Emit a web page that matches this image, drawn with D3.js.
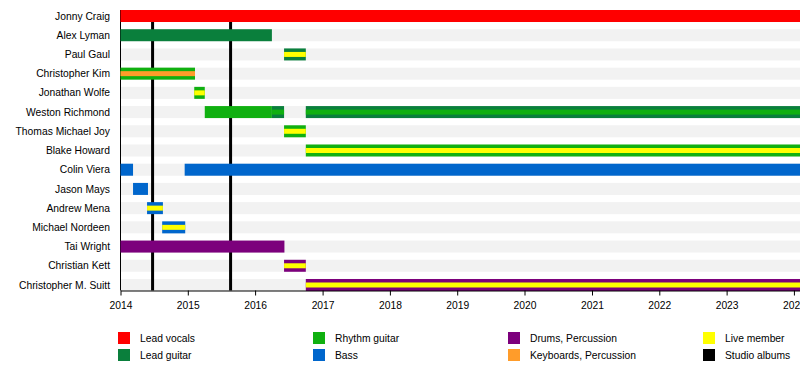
<!DOCTYPE html>
<html>
<head>
<meta charset="utf-8">
<script src="https://cdn.jsdelivr.net/npm/d3@7"></script>
<style>
  body { margin: 0; background: #fff; }
  text { font-family: "Liberation Sans", Arial, sans-serif; font-size: 10.3px; fill: #000; }
</style>
</head>
<body>
<svg id="chart" width="800" height="390"></svg>
<script>
// band members, top to bottom
const members = [
  'Jonny Craig', 'Alex Lyman', 'Paul Gaul', 'Christopher Kim', 'Jonathan Wolfe',
  'Weston Richmond', 'Thomas Michael Joy', 'Blake Howard', 'Colin Viera', 'Jason Mays',
  'Andrew Mena', 'Michael Nordeen', 'Tai Wright', 'Christian Kett', 'Christopher M. Suitt'
]

const roles = ['Lead vocals', 'Lead guitar', 'Rhythm guitar', 'Bass', 'Drums, Percussion',
  'Keyboards, Percussion', 'Live member', 'Studio albums']
const roleColors = ['#ff0000', '#0a7f3c', '#10b010', '#0066cc', '#7c007c',
  '#ff9c2a', '#ffff00', '#000000']

const END = '2024-02-03'

// [member, role, from, to]
const spans = [
  ['Jonny Craig', 'Lead vocals', '2014-01-01', END],
  ['Alex Lyman', 'Lead guitar', '2014-01-01', '2016-04-01'],
  ['Paul Gaul', 'Lead guitar', '2016-06-06', '2016-10-02'],
  ['Christopher Kim', 'Rhythm guitar', '2014-01-01', '2015-02-09'],
  ['Jonathan Wolfe', 'Rhythm guitar', '2015-02-05', '2015-04-03'],
  ['Weston Richmond', 'Rhythm guitar', '2015-04-03', '2016-04-01'],
  ['Weston Richmond', 'Lead guitar', '2016-04-01', '2016-06-06'],
  ['Weston Richmond', 'Lead guitar', '2016-10-02', END],
  ['Thomas Michael Joy', 'Rhythm guitar', '2016-06-06', '2016-10-02'],
  ['Blake Howard', 'Rhythm guitar', '2016-10-02', END],
  ['Colin Viera', 'Bass', '2014-01-01', '2014-03-10'],
  ['Colin Viera', 'Bass', '2014-12-15', END],
  ['Jason Mays', 'Bass', '2014-03-10', '2014-05-30'],
  ['Andrew Mena', 'Bass', '2014-05-25', '2014-08-19'],
  ['Michael Nordeen', 'Bass', '2014-08-15', '2014-12-18'],
  ['Tai Wright', 'Drums, Percussion', '2014-01-01', '2016-06-08'],
  ['Christian Kett', 'Drums, Percussion', '2016-06-06', '2016-10-02'],
  ['Christopher M. Suitt', 'Drums, Percussion', '2016-10-02', END]
]

// thinner bars drawn through the middle of the main ones
const stripes = [
  ['Paul Gaul', 'Live member', '2016-06-06', '2016-10-02'],
  ['Christopher Kim', 'Keyboards, Percussion', '2014-01-01', '2015-02-09'],
  ['Jonathan Wolfe', 'Live member', '2015-02-05', '2015-04-03'],
  ['Weston Richmond', 'Rhythm guitar', '2016-04-01', '2016-06-06'],
  ['Weston Richmond', 'Rhythm guitar', '2016-10-02', END],
  ['Thomas Michael Joy', 'Live member', '2016-06-06', '2016-10-02'],
  ['Blake Howard', 'Live member', '2016-10-02', END],
  ['Andrew Mena', 'Live member', '2014-05-25', '2014-08-19'],
  ['Michael Nordeen', 'Live member', '2014-08-15', '2014-12-18'],
  ['Christian Kett', 'Live member', '2016-06-06', '2016-10-02'],
  ['Christopher M. Suitt', 'Live member', '2016-10-02', END]
]

const albums = ['2014-06-24', '2015-08-21']

const svg = d3.select('#chart')
const parse = d3.utcParse('%Y-%m-%d')
const color = d3.scaleOrdinal().domain(roles).range(roleColors)

const left = 120.5, right = 800, axisY = 290.5
const x = d3.scaleUtc()
  .domain([parse('2014-01-01'), parse(END)])
  .range([left, right])
const y = d3.scaleBand()
  .domain(members)
  .range([6.4, 294.6])
const barH = 12, stripeH = 5
const cy = (m) => y(m) + y.bandwidth() / 2

// grey row backgrounds
svg.append('g').selectAll('rect')
  .data(members)
  .join('rect')
  .attr('x', left - 0.5)
  .attr('y', (d) => cy(d) - barH / 2)
  .attr('width', right - left + 0.5)
  .attr('height', barH)
  .attr('fill', '#f2f2f2')

// album lines + left edge
svg.append('g').selectAll('line')
  .data(albums)
  .join('line')
  .attr('x1', (d) => x(parse(d)))
  .attr('x2', (d) => x(parse(d)))
  .attr('y1', cy(members[0]) - barH / 2)
  .attr('y2', axisY)
  .attr('stroke', '#000')
  .attr('stroke-width', 3)
svg.append('line')
  .attr('x1', left).attr('x2', left)
  .attr('y1', cy(members[0]) - barH / 2).attr('y2', axisY)
  .attr('stroke', '#000')

// main bars
svg.append('g').selectAll('rect')
  .data(spans)
  .join('rect')
  .attr('x', (d) => x(parse(d[2])))
  .attr('y', (d) => cy(d[0]) - barH / 2)
  .attr('width', (d) => x(parse(d[3])) - x(parse(d[2])))
  .attr('height', barH)
  .attr('fill', (d) => color(d[1]))

svg.append('g').selectAll('rect')
  .data(stripes)
  .join('rect')
  .attr('x', (d) => x(parse(d[2])))
  .attr('y', (d) => cy(d[0]) - stripeH / 2)
  .attr('width', (d) => x(parse(d[3])) - x(parse(d[2])))
  .attr('height', stripeH)
  .attr('fill', (d) => color(d[1]))

// member names
svg.append('g').selectAll('text')
  .data(members)
  .join('text')
  .attr('x', 110)
  .attr('y', (d) => cy(d))
  .attr('dy', '0.35em')
  .attr('text-anchor', 'end')
  .text((d) => d)

// year axis
const axis = svg.append('g')
  .attr('transform', `translate(0,${axisY})`)
  .call(d3.axisBottom(x)
    .ticks(d3.utcYear.every(1))
    .tickFormat(d3.utcFormat('%Y'))
    .tickSize(5)
    .tickSizeOuter(0))
axis.selectAll('text').attr('font-size', null).attr('font-family', null).attr('y', 9).attr('dy', '0.95em')
axis.select('.domain').attr('stroke', '#000')

// legend, 4 columns of 2
const legend = svg.append('g').selectAll('g')
  .data(roles)
  .join('g')
  .attr('transform', (d, i) => `translate(${118 + Math.floor(i / 2) * 195},${332 + (i % 2) * 17})`)
legend.append('rect')
  .attr('width', 12)
  .attr('height', 12)
  .attr('fill', (d) => color(d))
legend.append('text')
  .attr('x', 22)
  .attr('y', 6)
  .attr('dy', '0.35em')
  .text((d) => d)
</script>
</body>
</html>
